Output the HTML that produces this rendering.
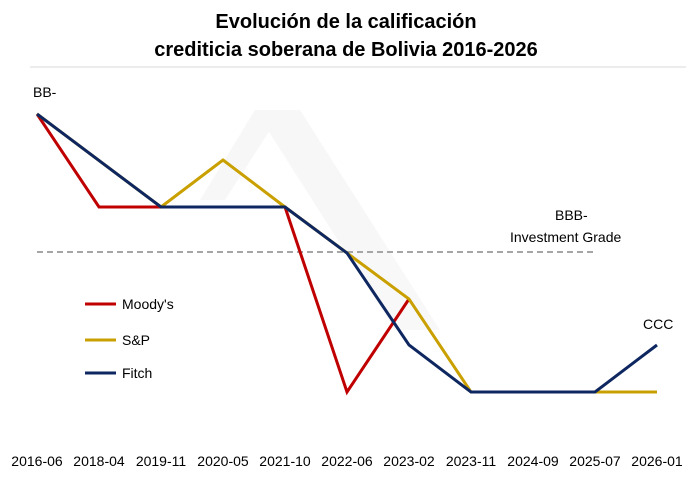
<!DOCTYPE html>
<html><head><meta charset="utf-8"><style>
html,body{margin:0;padding:0;background:#fff;}
svg{display:block;font-family:"Liberation Sans",Arial,sans-serif;}
</style></head><body>
<svg width="693" height="480" viewBox="0 0 693 480" xmlns="http://www.w3.org/2000/svg">
<rect width="693" height="480" fill="#fff"/>
<g opacity="0.06" fill="#888">
<polygon points="255,110 300,110 440,330 395,330"/>
<polygon points="255,110 200,200 225,200 270,130"/>
</g>
<text x="346" y="28" text-anchor="middle" font-size="20" font-weight="bold" fill="#000">Evolución de la calificación</text>
<text x="346" y="56" text-anchor="middle" font-size="20" font-weight="bold" fill="#000">crediticia soberana de Bolivia 2016-2026</text>
<line x1="30" y1="67" x2="686" y2="67" stroke="#d9d9d9" stroke-width="1"/>
<line x1="37" y1="252" x2="595" y2="252" stroke="#a6a6a6" stroke-width="2" stroke-dasharray="6,4"/>
<polyline fill="none" stroke="#c00000" stroke-width="3" points="37,114 99,207 161,207 285,207 347,392 409,299"/>
<polyline fill="none" stroke="#c9a000" stroke-width="3" points="37,114 161,207 223,160 285,207 347,253 409,299 471,392 657,392"/>
<polyline fill="none" stroke="#0e2760" stroke-width="3" points="37,114 161,207 285,207 347,253 409,345 471,392 595,392 657,345"/>
<g font-size="14" fill="#000">
<text x="33" y="97">BB-</text>
<text x="555" y="220">BBB-</text>
<text x="510" y="242">Investment Grade</text>
<text x="643" y="329">CCC</text>
<line x1="85" y1="304" x2="116" y2="304" stroke="#c00000" stroke-width="3"/>
<text x="122" y="309">Moody's</text>
<line x1="85" y1="340" x2="116" y2="340" stroke="#c9a000" stroke-width="3"/>
<text x="122" y="345">S&amp;P</text>
<line x1="85" y1="373" x2="116" y2="373" stroke="#0e2760" stroke-width="3"/>
<text x="122" y="378">Fitch</text>
</g>
<g font-size="14" fill="#000" text-anchor="middle">
<text x="37" y="466">2016-06</text>
<text x="99" y="466">2018-04</text>
<text x="161" y="466">2019-11</text>
<text x="223" y="466">2020-05</text>
<text x="285" y="466">2021-10</text>
<text x="347" y="466">2022-06</text>
<text x="409" y="466">2023-02</text>
<text x="471" y="466">2023-11</text>
<text x="533" y="466">2024-09</text>
<text x="595" y="466">2025-07</text>
<text x="657" y="466">2026-01</text>
</g>
</svg>
</body></html>
